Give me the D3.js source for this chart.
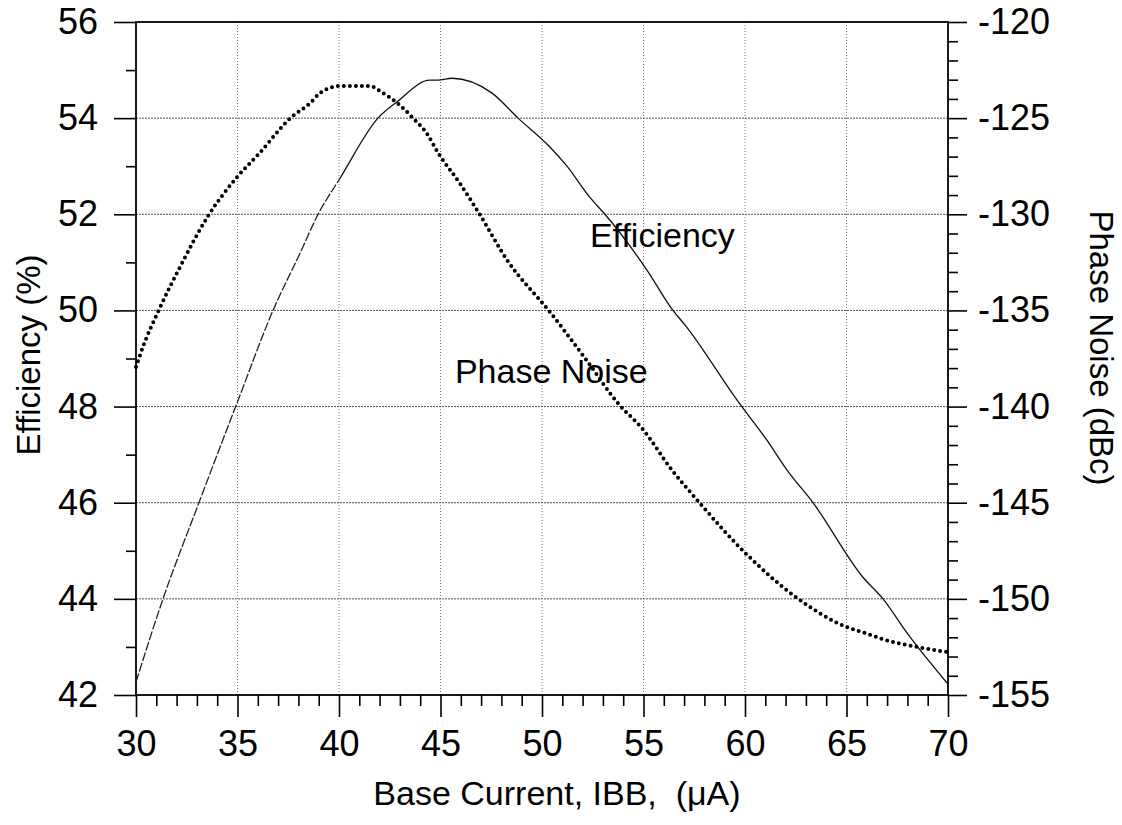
<!DOCTYPE html>
<html>
<head>
<meta charset="utf-8">
<script src="https://cdn.jsdelivr.net/npm/d3@7"></script>
<style>
  body { margin: 0; background: #fff; }
  svg text { font-family: "Liberation Sans", Arial, sans-serif; fill: #000; white-space: pre; }
</style>
</head>
<body>
<div id="chart"></div>
<script>
// Efficiency (%) vs base current
const effCurrent = [30, 31.33, 33.1, 35, 36.75, 38.08, 38.97, 40.05, 41.92, 42.86, 44.48, 44.88, 45.57, 47.54, 48.82, 50.39, 51.23, 52.36, 53.1, 55.17, 56.45, 57.04, 59.6, 61.08, 62.07, 63.35, 65.81, 66.8, 67.98, 69.95];
const effValues  = [42.27, 44, 46, 48.1, 50, 51.19, 52, 52.75, 54, 54.34, 54.79, 54.79, 54.83, 54.52, 54, 53.4, 53.0, 52.35, 52, 50.84, 50, 49.7, 48.14, 47.3, 46.68, 46, 44.45, 44, 43.29, 42.25];

// Phase noise (dBc) vs base current
const pnCurrent = [30, 30.34, 31.08, 32.17, 33.55, 34.98, 36.1, 37.6, 38.6, 39.06, 40.05, 41.53, 42.17, 42.86, 43.65, 44.33, 44.88, 45.96, 46.95, 48.28, 50.39, 52.2, 53.72, 54.98, 56.4, 57.64, 60.0, 62.56, 65.0, 66.0, 66.8, 68.47, 69.95];
const pnValues  = [-137.94, -136.9, -135.08, -132.74, -130.09, -128.06, -126.8, -125, -124.2, -123.7, -123.33, -123.33, -123.7, -124.2, -125, -125.8, -126.8, -128.4, -130.04, -132.38, -135.08, -137.6, -139.8, -141.2, -143.3, -144.86, -147.6, -149.95, -151.46, -151.8, -152.1, -152.5, -152.76];

const xTicks = [30, 35, 40, 45, 50, 55, 60, 65, 70];
const leftTicks = [42, 44, 46, 48, 50, 52, 54, 56];
const rightTicks = [-120, -125, -130, -135, -140, -145, -150, -155];

const W = 1122, H = 825;
const margin = { top: 22, right: 174, bottom: 130, left: 136 };
const pw = W - margin.left - margin.right;
const ph = H - margin.top - margin.bottom;

const svg = d3.select("#chart").append("svg")
    .attr("width", W)
    .attr("height", H);

const g = svg.append("g").attr("transform", `translate(${margin.left},${margin.top})`);

const x = d3.scaleLinear().domain([30, 70]).range([0, pw]);
const yL = d3.scaleLinear().domain([42, 56]).range([ph, 0]);
const yR = d3.scaleLinear().domain([-155, -120]).range([ph, 0]);

// grid
g.append("g").selectAll("line")
    .data(xTicks.slice(1, -1))
    .enter().append("line")
    .attr("x1", d => x(d)).attr("x2", d => x(d))
    .attr("y1", 0).attr("y2", ph)
    .attr("stroke", "#777")
    .attr("stroke-width", 1)
    .attr("stroke-dasharray", "1,2");

g.append("g").selectAll("line")
    .data(leftTicks.slice(1, -1))
    .enter().append("line")
    .attr("x1", 0).attr("x2", pw)
    .attr("y1", d => yL(d)).attr("y2", d => yL(d))
    .attr("stroke", "#555")
    .attr("stroke-width", 1)
    .attr("stroke-dasharray", "2,1");

// minor ticks (own groups so the major axis call doesn't drop them)
const xMinor = d3.range(30, 70.01, 1).filter(d => d % 5 !== 0);
const lMinor = d3.range(42, 56.01, 1).filter(d => d % 2 !== 0);
const rMinor = d3.range(-155, -119.99, 1).filter(d => d % 5 !== 0);

g.append("g").attr("transform", `translate(0,${ph})`)
    .attr("class", "ax")
    .call(d3.axisBottom(x).tickValues(xMinor).tickSize(11).tickFormat(""));
g.append("g")
    .attr("class", "ax")
    .call(d3.axisLeft(yL).tickValues(lMinor).tickSize(10).tickFormat(""));
g.append("g").attr("transform", `translate(${pw},0)`)
    .attr("class", "ax")
    .call(d3.axisRight(yR).tickValues(rMinor).tickSize(10).tickFormat(""));

// major ticks + labels
g.append("g").attr("transform", `translate(0,${ph})`)
    .attr("class", "ax")
    .call(d3.axisBottom(x).tickValues(xTicks).tickSize(22).tickPadding(13).tickFormat(d3.format("d")));
g.append("g")
    .attr("class", "ax")
    .call(d3.axisLeft(yL).tickValues(leftTicks).tickSize(22).tickPadding(16).tickFormat(d3.format("d")));
g.append("g").attr("transform", `translate(${pw},0)`)
    .attr("class", "ax")
    .call(d3.axisRight(yR).tickValues(rightTicks).tickSize(19).tickPadding(11).tickFormat(d => "-" + Math.abs(d)));

g.selectAll(".ax .domain").remove();
g.selectAll(".ax .tick line").attr("stroke", "#000").attr("stroke-width", 1.6);
g.selectAll(".ax text").style("font-size", "36px").attr("fill", "#000");

// frame
g.append("rect")
    .attr("width", pw).attr("height", ph)
    .attr("fill", "none")
    .attr("stroke", "#000")
    .attr("stroke-width", 1.8);

// clips: rising part of efficiency looks broken in the scan
const splitX = x(40);
const defs = svg.append("defs");
defs.append("clipPath").attr("id", "clip-left")
    .append("rect").attr("x", -5).attr("y", -5).attr("width", splitX + 5).attr("height", ph + 10);
defs.append("clipPath").attr("id", "clip-right")
    .append("rect").attr("x", splitX).attr("y", -5).attr("width", pw - splitX + 5).attr("height", ph + 10);

// curves
const effLine = d3.line()
    .x((d, i) => x(effCurrent[i]))
    .y(d => yL(d))
    .curve(d3.curveMonotoneX);

g.append("path")
    .datum(effValues)
    .attr("d", effLine)
    .attr("clip-path", "url(#clip-left)")
    .attr("fill", "none")
    .attr("stroke", "#222")
    .attr("stroke-width", 1.3)
    .attr("stroke-dasharray", "9,2");
g.append("path")
    .datum(effValues)
    .attr("d", effLine)
    .attr("clip-path", "url(#clip-right)")
    .attr("fill", "none")
    .attr("stroke", "#111")
    .attr("stroke-width", 1.3);

const pnLine = d3.line()
    .x((d, i) => x(pnCurrent[i]))
    .y(d => yR(d))
    .curve(d3.curveMonotoneX);

g.append("path")
    .datum(pnValues)
    .attr("d", pnLine)
    .attr("fill", "none")
    .attr("stroke", "#000")
    .attr("stroke-width", 4)
    .attr("stroke-linecap", "round")
    .attr("stroke-dasharray", "0,6");

// curve labels
g.append("text")
    .attr("x", x(52.36)).attr("y", yL(51.32))
    .style("font-size", "34px")
    .text("Efficiency");

g.append("text")
    .attr("x", x(45.71)).attr("y", yR(-138.77))
    .style("font-size", "34px")
    .text("Phase Noise");

// axis titles
svg.append("text")
    .attr("x", 557).attr("y", 805)
    .attr("text-anchor", "middle")
    .style("font-size", "34px")
    .text("Base Current, IBB,  (\u03BCA)");

svg.append("text")
    .attr("transform", `translate(40,355) rotate(-90)`)
    .attr("text-anchor", "middle")
    .style("font-size", "33px")
    .text("Efficiency (%)");

svg.append("text")
    .attr("transform", `translate(1090,348) rotate(90)`)
    .attr("text-anchor", "middle")
    .style("font-size", "33px")
    .text("Phase Noise (dBc)");
</script>
</body>
</html>
